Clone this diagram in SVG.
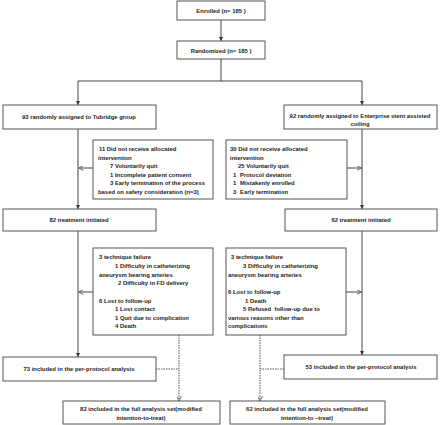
<svg xmlns="http://www.w3.org/2000/svg" width="440" height="425" viewBox="0 0 440 425">
<style>
.box{fill:#fff;stroke:#555;stroke-width:1}
text{font-family:"Liberation Sans",Arial,sans-serif;font-weight:bold;font-size:5.9px;fill:#222}
.c{text-anchor:middle}
.ln{fill:none;stroke:#444;stroke-width:1}
.dt{fill:none;stroke:#555;stroke-width:1;stroke-dasharray:1.5,1}
</style>
<defs>
<marker id="fa" viewBox="0 0 6 6" refX="6" refY="3" markerWidth="4" markerHeight="4" markerUnits="userSpaceOnUse" orient="auto">
<path d="M0,0 L6,3 L0,6 Z" fill="#333"/>
</marker>
<marker id="oa" viewBox="0 0 6 6" refX="6" refY="3" markerWidth="5" markerHeight="5" markerUnits="userSpaceOnUse" orient="auto">
<path d="M0,0 L6,3 L0,6" fill="none" stroke="#555" stroke-width="1"/>
</marker>
</defs>
<g id="connectors">
<line class="ln" x1="221" y1="20" x2="221" y2="41" marker-end="url(#fa)"/>
<polyline class="ln" points="221,59 221,81"/>
<polyline class="ln" points="78,81 362,81"/>
<line class="ln" x1="78" y1="81" x2="78" y2="105" marker-end="url(#fa)"/>
<line class="ln" x1="362" y1="81" x2="362" y2="105" marker-end="url(#fa)"/>
<line class="ln" x1="78" y1="129" x2="78" y2="209" marker-end="url(#fa)"/>
<line class="ln" x1="362" y1="129" x2="362" y2="209" marker-end="url(#fa)"/>
<line class="ln" x1="78" y1="231" x2="78" y2="357" marker-end="url(#fa)"/>
<line class="ln" x1="362" y1="231" x2="362" y2="355" marker-end="url(#fa)"/>
<line class="ln" x1="93" y1="168" x2="78.5" y2="168" marker-end="url(#oa)"/>
<line class="ln" x1="347" y1="168" x2="361.5" y2="168" marker-end="url(#oa)"/>
<line class="ln" x1="93" y1="292" x2="78.5" y2="292" marker-end="url(#oa)"/>
<line class="ln" x1="346" y1="292" x2="361.5" y2="292" marker-end="url(#oa)"/>
<polyline class="dt" points="156,369 179,369"/>
<line class="dt" x1="179" y1="335" x2="179" y2="401" marker-end="url(#oa)"/>
<polyline class="dt" points="284,369 260,369"/>
<line class="dt" x1="260" y1="335" x2="260" y2="401" marker-end="url(#oa)"/>
</g>
<g id="enrolled">
<rect class="box" x="177" y="1" width="88" height="19"/>
<text class="c" x="221" y="13">Enrolled (n= 185 )</text>
</g>
<g id="randomized">
<rect class="box" x="177" y="41" width="88" height="18"/>
<text class="c" x="221" y="52.5">Randomized (n= 185 )</text>
</g>
<g id="tubridge">
<rect class="box" x="3" y="105" width="153" height="24"/>
<text class="c" x="79" y="119">93 randomly assigned to Tubridge group</text>
</g>
<g id="enterprise">
<rect class="box" x="284" y="105" width="153" height="24"/>
<text class="c" x="360" y="117.5">92 randomly assigned to Enterprise stent assisted</text>
<text class="c" x="360" y="125.5">coiling</text>
</g>
<g id="excluded-left">
<rect class="box" x="93" y="140" width="120" height="59"/>
<text x="99" y="151">11 Did not receive allocated</text>
<text x="98" y="159.5">intervention</text>
<text x="110" y="168">7 Voluntarily quit</text>
<text x="110" y="176.5">1 Incomplete patient consent</text>
<text x="110" y="185">3 Early termination of the process</text>
<text x="98" y="193.5">based on safety consideration (n=3)</text>
</g>
<g id="excluded-right">
<rect class="box" x="226" y="140" width="121" height="59"/>
<text x="230" y="151">30 Did not receive allocated</text>
<text x="230" y="159.5">intervention</text>
<text x="238" y="168">25 Voluntarily quit</text>
<text x="233" y="176.5">1</text><text x="240" y="176.5">Protocol deviation</text>
<text x="233" y="185">1</text><text x="240" y="185">Mistakenly enrolled</text>
<text x="233" y="193.5">3</text><text x="240" y="193.5">Early termination</text>
</g>
<g id="treated-left">
<rect class="box" x="3" y="209" width="153" height="22"/>
<text class="c" x="79" y="222">82 treatment initiated</text>
</g>
<g id="treated-right">
<rect class="box" x="285" y="209" width="152" height="22"/>
<text class="c" x="361" y="222">62 treatment initiated</text>
</g>
<g id="lost-left">
<rect class="box" x="93" y="248" width="120" height="87"/>
<text x="99" y="259">3 technique failure</text>
<text x="115" y="268">1 Difficulty in catheterizing</text>
<text x="99" y="276.5">aneurysm bearing arteries</text>
<text x="118" y="285">2 Difficulty in FD delivery</text>
<text x="99" y="302.5">6 Lost to follow-up</text>
<text x="115" y="311">1 Lost contact</text>
<text x="115" y="319.5">1 Quit due to complication</text>
<text x="115" y="328">4 Death</text>
</g>
<g id="lost-right">
<rect class="box" x="226" y="248" width="120" height="87"/>
<text x="231" y="259">3 technique failure</text>
<text x="243" y="268">3 Difficulty in catheterizing</text>
<text x="228" y="276.5">aneurysm bearing arteries</text>
<text x="228" y="294">6 Lost to follow-up</text>
<text x="245" y="302.5">1 Death</text>
<text x="243" y="311" xml:space="preserve">5 Refused  follow-up due to</text>
<text x="228" y="319.5">various reasons other than</text>
<text x="228" y="328">complications</text>
</g>
<g id="pp-left">
<rect class="box" x="3" y="357" width="153" height="24"/>
<text class="c" x="79" y="371">73 included in the per-protocol analysis</text>
</g>
<g id="pp-right">
<rect class="box" x="284" y="355" width="153" height="24"/>
<text class="c" x="361" y="369">53 included in the per-protocol analysis</text>
</g>
<g id="fas-left">
<rect class="box" x="63" y="401" width="157" height="23"/>
<text class="c" x="141" y="411">82 included in the full analysis set(modified</text>
<text class="c" x="141" y="419.5">intention-to-treat)</text>
</g>
<g id="fas-right">
<rect class="box" x="230" y="401" width="155" height="23"/>
<text class="c" x="307" y="411">62 included in the full analysis set(modified</text>
<text class="c" x="307" y="419.5">intention-to –treat)</text>
</g>
</svg>
